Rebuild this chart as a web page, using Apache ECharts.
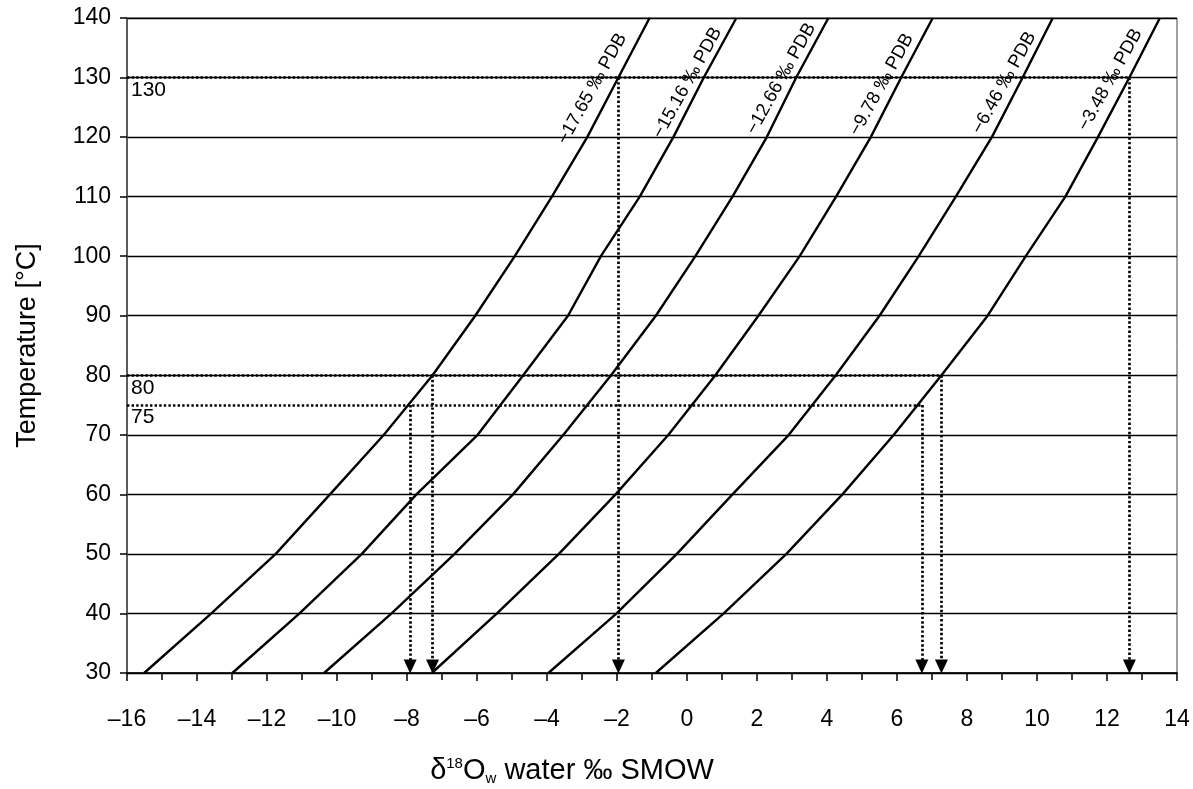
<!DOCTYPE html>
<html>
<head>
<meta charset="utf-8">
<script src="https://cdn.jsdelivr.net/npm/echarts@6/dist/echarts.min.js"></script>
<style>html,body{margin:0;padding:0;background:#fff}#c{width:1193px;height:789px}</style>
</head>
<body>
<div id="c"></div>
<script>
// Temperatures (°C) at which each calcite isoline was read
const temps = [30, 40, 50, 60, 70, 80, 90, 100, 110, 120, 130, 140];
// δ18O water (‰ SMOW) for each calcite δ18O isoline
const curveNames = ['\u221217.65 \u2030 PDB', '\u221215.16 \u2030 PDB', '\u221212.66 \u2030 PDB', '\u22129.78 \u2030 PDB', '\u22126.46 \u2030 PDB', '\u22123.48 \u2030 PDB'];
const curve1 = [-15.51, -13.59, -11.75, -10.20, -8.66, -7.27, -6.05, -4.92, -3.86, -2.85, -1.96, -1.07];
const curve2 = [-12.99, -11.07, -9.29, -7.73, -5.98, -4.68, -3.40, -2.46, -1.35, -0.39, 0.48, 1.41];
const curve3 = [-10.37, -8.44, -6.64, -4.97, -3.53, -2.17, -0.89, 0.24, 1.30, 2.28, 3.12, 4.04];
const curve4 = [-7.29, -5.43, -3.66, -2.04, -0.53, 0.81, 2.04, 3.22, 4.26, 5.25, 6.12, 7.02];
const curve5 = [-3.96, -2.01, -0.29, 1.30, 2.91, 4.25, 5.50, 6.62, 7.68, 8.71, 9.59, 10.45];
const curve6 = [-0.89, 1.05, 2.84, 4.44, 5.91, 7.27, 8.59, 9.68, 10.81, 11.74, 12.64, 13.51];
// curve label anchor points (x in ‰ SMOW, y in °C)
const labelX = [-2.71, 0.01, 2.69, 5.56, 9.06, 12.09];
const labelY = [128.1, 129.1, 129.8, 128.8, 129.1, 129.6];
// guide temperatures and where the dotted horizontal guides stop
const guideT = [130, 80, 75];
const guideEndX = [12.64, 7.27, 6.71];
// dotted down-arrows: start x and temperature
const arrowX = [-7.91, -7.27, -1.96, 6.71, 7.27, 12.64];
const arrowT = [75, 80, 130, 75, 80, 130];
// axis ticks
const xMin = -16, xMax = 14, xStep = 2;
const yMin = 30, yMax = 140, yStep = 10;

const curves = [curve1, curve2, curve3, curve4, curve5, curve6];
const FONT = 'Liberation Sans, Arial, sans-serif';
const NARROW = 'Liberation Sans Narrow, Liberation Sans, Arial, sans-serif';

const series = curves.map((c, i) => ({
  type: 'line',
  name: curveNames[i],
  data: c.map((x, k) => [x, temps[k]]),
  symbol: 'none',
  smooth: false,
  lineStyle: { color: '#000', width: 2.4 },
  z: 5
}));

series.push({
  type: 'scatter',
  data: labelX.map((x, i) => [x, labelY[i], curveNames[i]]),
  symbolSize: 0,
  itemStyle: { color: '#000' },
  label: {
    show: true,
    position: 'inside',
    rotate: 61,
    formatter: p => p.data[2],
    color: '#000',
    opacity: 1,
    fontFamily: FONT,
    fontSize: 18.5
  },
  z: 6
});

series.push({
  type: 'scatter',
  data: guideT.map(t => [xMin, t, String(t)]),
  symbolSize: 0,
  clip: false,
  itemStyle: { color: '#000' },
  label: {
    show: true,
    position: [4, 2],
    align: 'left',
    verticalAlign: 'top',
    formatter: p => p.data[2],
    color: '#000',
    opacity: 1,
    fontFamily: FONT,
    fontSize: 21
  },
  z: 6
});

const guideLines = guideT.map((t, i) => [
  { coord: [xMin, t], symbol: 'none' },
  { coord: [guideEndX[i], t], symbol: 'none' }
]);
const arrowLines = arrowX.map((x, i) => [
  { coord: [x, arrowT[i]], symbol: 'none' },
  { coord: [x, yMin + 1.1], symbol: 'triangle', symbolSize: [13, 14] }
]);

series.push({
  type: 'line',
  data: [],
  markLine: {
    silent: true,
    animation: false,
    label: { show: false },
    lineStyle: { color: '#000', width: 2.7, type: [2.4, 2.2], opacity: 1 },
    emphasis: { disabled: true },
    data: guideLines.concat(arrowLines)
  },
  z: 7
});

const chart = echarts.init(document.getElementById('c'), null, { renderer: 'canvas' });
chart.setOption({
  animation: false,
  backgroundColor: '#fff',
  grid: { left: 127, right: 16, top: 18, bottom: 116, show: true, borderColor: '#444', borderWidth: 1, containLabel: false, outerBoundsMode: 'none' },
  xAxis: {
    type: 'value', min: xMin, max: xMax, interval: xStep,
    name: '{d|\u03b4}{sup|18}{o|O}{sub|w}{t| water \u2030 SMOW}',
    nameLocation: 'middle', nameGap: 83,
    nameTextStyle: {
      padding: [0, 160, 0, 0],
      rich: {
        d: { fontFamily: FONT, fontSize: 29, color: '#000' },
        sup: { fontFamily: FONT, fontSize: 15, color: '#000', padding: [0, 0, 15, 0] },
        o: { fontFamily: FONT, fontSize: 29, color: '#000' },
        sub: { fontFamily: FONT, fontSize: 15, color: '#000', padding: [15, 0, 0, 0] },
        t: { fontFamily: FONT, fontSize: 29, color: '#000' }
      }
    },
    axisLine: { show: true, onZero: false, lineStyle: { color: '#000', width: 1.5 } },
    axisTick: { show: true, inside: false, length: 8, lineStyle: { color: '#000', width: 1.5 } },
    minorTick: { show: true, splitNumber: 2, length: 7, lineStyle: { color: '#000', width: 1.5 } },
    axisLabel: { margin: 35, color: '#000', fontFamily: NARROW, fontSize: 23, formatter: v => String(v).replace('-', '\u2013') },
    splitLine: { show: false }
  },
  yAxis: {
    type: 'value', min: yMin, max: yMax, interval: yStep,
    name: 'Temperature [\u00b0C]',
    nameLocation: 'middle', nameGap: 86,
    nameTextStyle: { fontFamily: FONT, fontSize: 27, color: '#000' },
    axisLine: { show: true, onZero: false, lineStyle: { color: '#444', width: 1.5 } },
    axisTick: { show: true, inside: false, length: 7, lineStyle: { color: '#000', width: 1.5 } },
    axisLabel: { margin: 16, color: '#000', fontFamily: NARROW, fontSize: 23 },
    splitLine: { show: true, lineStyle: { color: '#000', width: 1.4 } }
  },
  series: series
});
</script>
</body>
</html>
